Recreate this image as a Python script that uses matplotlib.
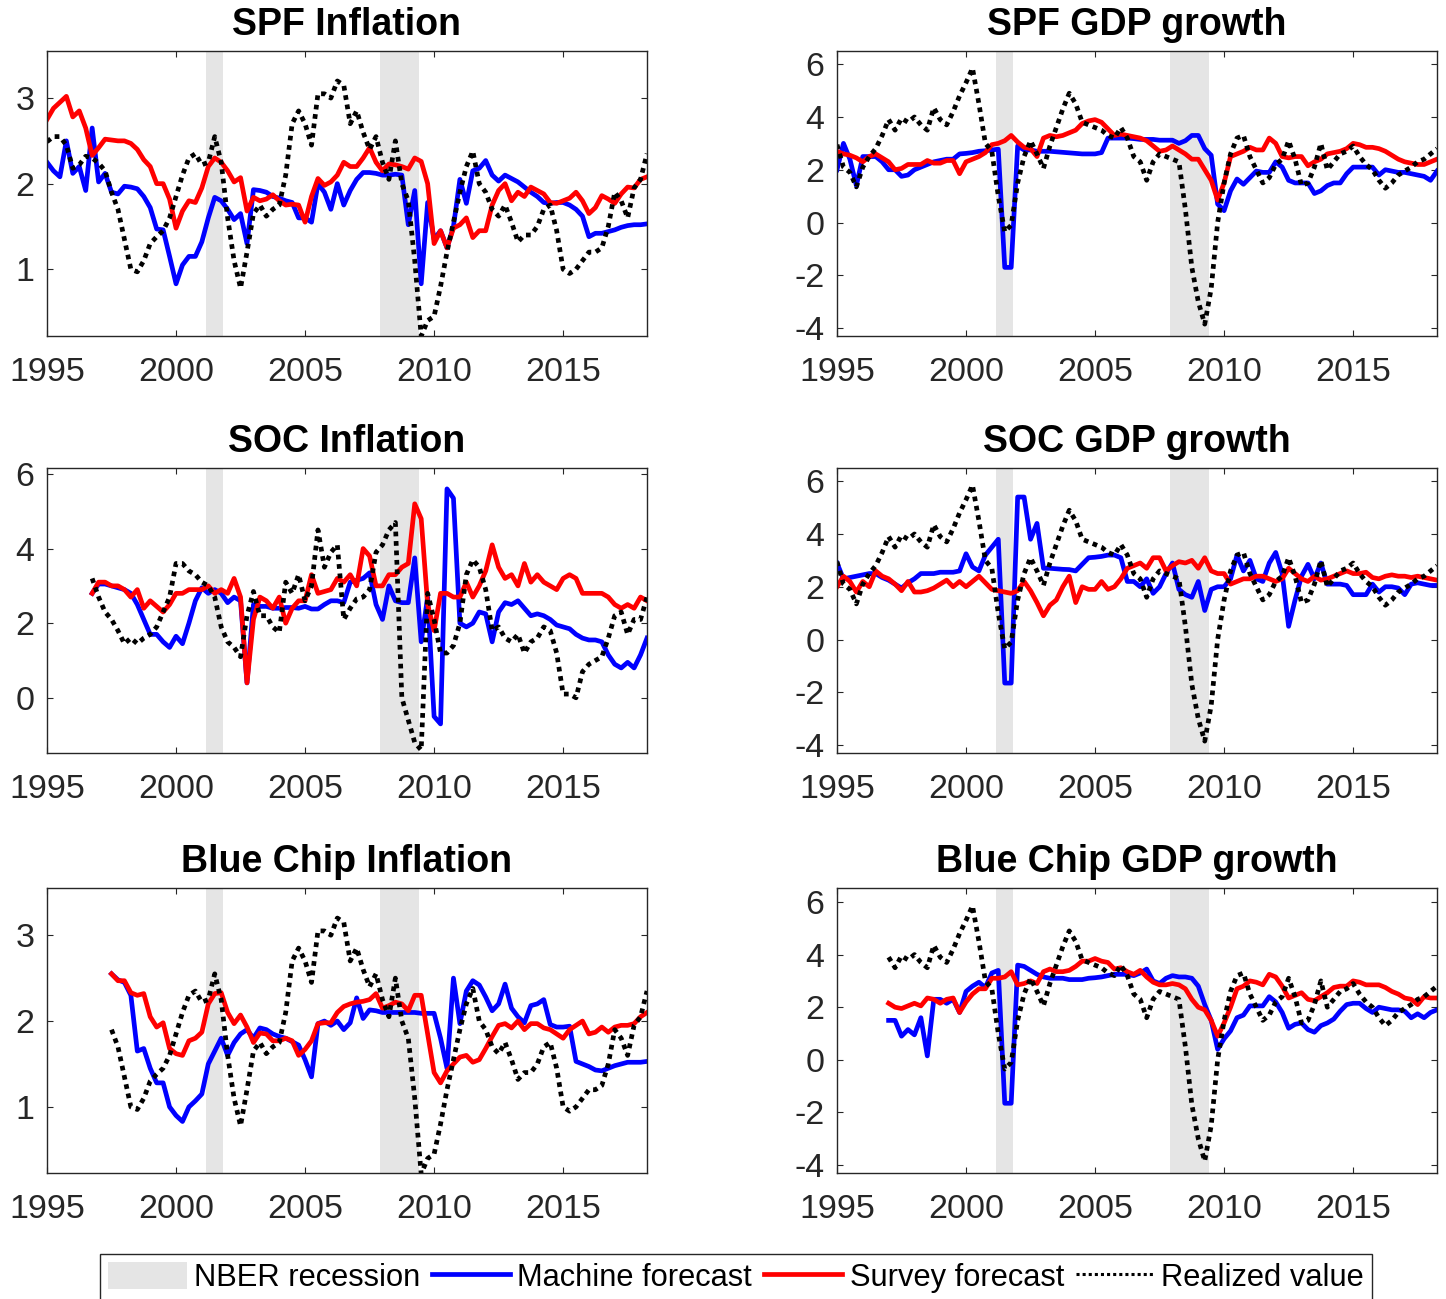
import numpy as np
import matplotlib
matplotlib.use('Agg')
import matplotlib.pyplot as plt
from matplotlib.patches import Patch
from matplotlib.lines import Line2D

plt.rcParams['font.family'] = ['Liberation Sans', 'DejaVu Sans']
plt.rcParams['axes.unicode_minus'] = False

# NBER recessions (start, end)
recessions = [(2001.17, 2001.83), (2007.92, 2009.42)]

# ---- realized values, quarterly ----
# realized inflation (SPF / Blue Chip), 1995Q1 - 2018Q2
realized_infl = [2.49, 2.55, 2.55, 2.45,
                 2.18, 2.22, 2.32, 2.30,
                 2.24, 2.15, 1.90, 1.70,
                 1.35, 1.00, 0.97, 1.10,
                 1.30, 1.38, 1.45, 1.60,
                 1.85, 2.10, 2.30, 2.35,
                 2.22, 2.25, 2.55, 2.25,
                 1.60, 1.10, 0.78, 1.20,
                 1.65, 1.75, 1.62, 1.70,
                 1.75, 2.10, 2.70, 2.85,
                 2.70, 2.45, 3.05, 3.05,
                 3.00, 3.20, 3.15, 2.70,
                 2.85, 2.60, 2.40, 2.55,
                 2.25, 2.05, 2.50, 2.00,
                 1.80, 1.10, 0.22, 0.40,
                 0.45, 0.80, 1.20, 1.55,
                 1.90, 2.20, 2.38, 2.00,
                 1.90, 1.70, 1.62, 1.75,
                 1.55, 1.32, 1.40, 1.40,
                 1.50, 1.70, 1.75, 1.45,
                 1.00, 0.95, 1.00, 1.10,
                 1.20, 1.20, 1.25, 1.50,
                 1.90, 1.80, 1.60, 1.95,
                 2.05, 2.35]

# realized inflation (SOC), 1996Q4 - 2018Q2
realized_cpi = [3.20,
                2.70, 2.30, 2.10, 1.80,
                1.45, 1.60, 1.45, 1.60,
                1.70, 1.90, 2.30, 2.70,
                3.60, 3.60, 3.40, 3.30,
                3.10, 3.00, 2.70, 1.90,
                1.50, 1.35, 1.10, 2.20,
                2.85, 2.20, 2.20, 1.90,
                1.75, 3.10, 2.80, 3.30,
                2.60, 3.00, 4.50, 3.50,
                3.90, 4.10, 2.10, 2.40,
                2.65, 2.70, 2.90, 3.90,
                4.10, 4.50, 4.70, 0.00,
                -0.60, -1.20, -1.40, 2.80,
                2.10, 1.20, 1.20, 1.40,
                2.00, 3.30, 3.70, 3.50,
                2.90, 1.80, 1.90, 1.60,
                1.50, 1.70, 1.20, 1.50,
                1.60, 1.90, 1.80, 1.20,
                0.10, 0.10, 0.00, 0.70,
                0.90, 1.00, 1.10, 1.60,
                2.20, 2.30, 1.70, 2.10,
                2.10, 2.70]

# realized GDP growth, 1995Q1 - 2018Q2
realized_gdp = [2.95, 2.10, 1.90, 1.35,
                2.10, 2.50, 2.80, 3.30,
                3.90, 3.50, 3.95, 3.80,
                4.00, 3.70, 3.50, 4.35,
                3.90, 3.70, 4.20, 4.80,
                5.30, 5.85, 4.50, 3.00,
                2.70, 1.00, -0.35, -0.10,
                1.50, 2.50, 3.10, 2.60,
                2.05, 2.90, 3.60, 4.30,
                4.90, 4.50, 3.80, 3.70,
                3.60, 3.50, 3.30, 3.20,
                3.60, 3.20, 2.50, 2.30,
                1.60, 2.30, 2.60, 2.50,
                2.40, 2.30, 0.50, -1.70,
                -3.00, -3.85, -2.50, 0.00,
                1.50, 2.60, 3.20, 3.30,
                2.50, 2.00, 1.50, 1.70,
                2.20, 2.40, 3.10, 2.40,
                1.40, 1.50, 2.10, 3.00,
                2.00, 2.30, 2.60, 2.70,
                2.90, 2.50, 2.20, 2.00,
                1.60, 1.30, 1.50, 1.80,
                1.95, 2.10, 2.30, 2.40,
                2.60, 2.80]

# ---- SPF, 1995Q1 - 2018Q2 ----
spf_infl_mach = [2.25, 2.15, 2.08, 2.50,
                 2.12, 2.20, 1.92, 2.65,
                 2.02, 2.12, 1.90, 1.88,
                 1.97, 1.96, 1.94, 1.85,
                 1.72, 1.47, 1.46, 1.15,
                 0.83, 1.05, 1.15, 1.15,
                 1.32, 1.60, 1.84, 1.80,
                 1.70, 1.58, 1.65, 1.30,
                 1.93, 1.92, 1.90, 1.85,
                 1.83, 1.80, 1.78, 1.60,
                 1.60, 1.55, 2.00, 1.90,
                 1.70, 2.00, 1.75, 1.92,
                 2.05, 2.13, 2.13, 2.12,
                 2.10, 2.10, 2.11, 2.10,
                 1.52, 1.92, 0.83, 1.78,
                 1.35, 1.45, 1.25, 1.50,
                 2.05, 1.77, 2.15, 2.18,
                 2.27, 2.10, 2.03, 2.10,
                 2.06, 2.02, 1.96, 1.90,
                 1.85, 1.78, 1.77, 1.78,
                 1.78, 1.75, 1.70, 1.62,
                 1.38, 1.42, 1.42, 1.44,
                 1.46, 1.49, 1.51, 1.52,
                 1.52, 1.53]

spf_infl_surv = [2.75, 2.88, 2.95, 3.02,
                 2.78, 2.85, 2.65, 2.33,
                 2.42, 2.52, 2.51, 2.50,
                 2.50, 2.47, 2.40, 2.28,
                 2.20, 2.00, 2.00, 1.82,
                 1.48, 1.68, 1.80, 1.78,
                 1.95, 2.20, 2.30, 2.25,
                 2.15, 2.02, 2.07, 1.68,
                 1.84, 1.80, 1.82, 1.87,
                 1.80, 1.75, 1.76, 1.75,
                 1.55, 1.85, 2.06, 1.98,
                 2.02, 2.10, 2.25, 2.20,
                 2.20, 2.30, 2.42, 2.25,
                 2.15, 2.23, 2.22, 2.20,
                 2.17, 2.30, 2.26, 2.00,
                 1.30, 1.45, 1.25, 1.48,
                 1.52, 1.60, 1.37, 1.45,
                 1.45, 1.75, 1.92, 2.00,
                 1.80, 1.90, 1.85, 1.96,
                 1.92, 1.88, 1.78, 1.77,
                 1.80, 1.83, 1.90, 1.80,
                 1.65, 1.72, 1.86, 1.82,
                 1.77, 1.88, 1.96, 1.95,
                 2.05, 2.08]

spf_gdp_mach = [2.00, 3.00, 2.40, 1.40,
                2.50, 2.50, 2.50, 2.30,
                2.00, 2.00, 1.75, 1.80,
                2.00, 2.10, 2.20, 2.30,
                2.35, 2.40, 2.40, 2.60,
                2.62, 2.65, 2.70, 2.72,
                2.75, 2.78, -1.70, -1.70,
                2.90, 2.75, 2.75, 2.70,
                2.70, 2.70, 2.68, 2.66,
                2.64, 2.62, 2.60, 2.60,
                2.60, 2.65, 3.20, 3.20,
                3.20, 3.20, 3.18, 3.15,
                3.15, 3.15, 3.12, 3.12,
                3.12, 3.00, 3.10, 3.30,
                3.30, 2.80, 2.55, 0.70,
                0.45, 1.20, 1.65, 1.45,
                1.70, 1.95, 1.90, 1.90,
                2.30, 2.10, 1.60, 1.50,
                1.50, 1.50, 1.10, 1.20,
                1.40, 1.50, 1.50, 1.85,
                2.10, 2.10, 2.10, 2.10,
                1.80, 2.00, 1.95, 1.90,
                1.90, 1.85, 1.80, 1.75,
                1.60, 1.95]

spf_gdp_surv = [2.70, 2.60, 2.55, 2.45,
                2.30, 2.50, 2.60, 2.45,
                2.30, 2.00, 2.05, 2.20,
                2.20, 2.20, 2.35, 2.25,
                2.25, 2.35, 2.35, 1.85,
                2.30, 2.40, 2.50, 2.65,
                2.95, 3.00, 3.10, 3.30,
                3.05, 2.85, 2.80, 2.50,
                3.20, 3.30, 3.25, 3.30,
                3.40, 3.50, 3.75, 3.85,
                3.90, 3.80, 3.55, 3.30,
                3.35, 3.30, 3.25, 3.20,
                3.10, 2.90, 2.70, 2.75,
                2.90, 2.75, 2.60, 2.40,
                2.40, 2.00, 1.60, 0.85,
                1.50, 2.50, 2.60, 2.70,
                2.85, 2.75, 2.75, 3.20,
                3.00, 2.50, 2.45, 2.50,
                2.50, 2.15, 2.30, 2.40,
                2.60, 2.65, 2.70, 2.80,
                3.00, 2.95, 2.85, 2.85,
                2.80, 2.70, 2.55, 2.40,
                2.30, 2.25, 2.20, 2.20,
                2.30, 2.40]

# ---- SOC inflation, 1996Q4 - 2018Q2 ----
soc_infl_mach = [2.80,
                 3.05, 3.05, 3.00, 2.95,
                 2.90, 2.80, 2.50, 2.10,
                 1.70, 1.70, 1.50, 1.35,
                 1.65, 1.45, 2.00, 2.60,
                 2.95, 2.80, 2.90, 2.80,
                 2.55, 2.70, 2.60, 0.40,
                 2.50, 2.45, 2.45, 2.40,
                 2.40, 2.42, 2.42, 2.40,
                 2.45, 2.38, 2.38, 2.50,
                 2.60, 2.60, 2.55, 3.10,
                 3.15, 3.20, 3.35, 2.50,
                 2.10, 3.00, 2.60, 2.55,
                 2.55, 3.75, 1.50, 2.70,
                 -0.50, -0.70, 5.60, 5.35,
                 2.00, 1.90, 2.00, 2.30,
                 2.25, 1.50, 2.30, 2.55,
                 2.50, 2.60, 2.40, 2.20,
                 2.25, 2.20, 2.10, 1.95,
                 1.90, 1.85, 1.70, 1.60,
                 1.55, 1.55, 1.50, 1.15,
                 0.90, 0.80, 0.95, 0.80,
                 1.15, 1.60]

soc_infl_surv = [2.80,
                 3.10, 3.10, 3.00, 3.00,
                 2.90, 2.70, 2.90, 2.40,
                 2.60, 2.45, 2.30, 2.50,
                 2.80, 2.80, 2.90, 2.90,
                 2.90, 3.00, 2.80, 2.90,
                 2.80, 3.20, 2.70, 0.40,
                 2.10, 2.70, 2.60, 2.40,
                 2.70, 2.00, 2.40, 2.60,
                 2.60, 3.30, 2.80, 2.85,
                 2.90, 3.20, 3.10, 3.30,
                 3.00, 4.00, 3.80, 3.00,
                 3.00, 3.30, 3.30, 3.50,
                 3.60, 5.20, 4.80, 2.50,
                 1.80, 2.80, 2.80, 2.70,
                 2.70, 3.10, 2.70, 3.00,
                 3.40, 4.10, 3.50, 3.20,
                 3.30, 3.00, 3.60, 3.10,
                 3.30, 3.10, 3.00, 2.90,
                 3.20, 3.30, 3.20, 2.80,
                 2.80, 2.80, 2.80, 2.70,
                 2.50, 2.40, 2.50, 2.40,
                 2.70, 2.60]

# ---- SOC GDP, 1995Q1 - 2018Q2 ----
soc_gdp_mach = [2.90, 2.30, 2.35, 2.40,
                2.45, 2.50, 2.50, 2.35,
                2.25, 2.10, 1.95, 2.15,
                2.30, 2.50, 2.50, 2.50,
                2.55, 2.55, 2.55, 2.60,
                3.25, 2.75, 2.60, 3.20,
                3.50, 3.80, -1.65, -1.65,
                5.40, 5.40, 3.80, 4.40,
                2.70, 2.70, 2.68, 2.66,
                2.65, 2.60, 2.85, 3.10,
                3.12, 3.15, 3.20, 3.20,
                3.10, 2.20, 2.20, 2.00,
                2.30, 1.75, 2.00, 2.50,
                2.90, 1.90, 1.70, 1.60,
                2.20, 1.10, 1.90, 2.00,
                2.00, 2.30, 3.20, 2.60,
                3.00, 2.30, 2.20, 2.90,
                3.30, 2.50, 0.50, 1.50,
                2.40, 2.85, 2.30, 2.90,
                2.10, 2.10, 2.10, 2.05,
                1.70, 1.70, 1.70, 2.10,
                1.80, 2.00, 2.00, 1.95,
                1.70, 2.10, 2.15, 2.10,
                2.05, 2.05]

soc_gdp_surv = [2.00, 2.40, 2.20, 1.80,
                2.20, 2.00, 2.60, 2.40,
                2.30, 2.10, 1.85, 2.20,
                1.80, 1.80, 1.85, 1.95,
                2.10, 2.25, 2.00, 2.20,
                2.00, 2.20, 2.40, 2.15,
                1.90, 1.85, 1.80, 1.75,
                1.85, 2.20, 1.85, 1.40,
                0.90, 1.30, 1.50, 2.00,
                2.40, 1.40, 2.00, 1.90,
                1.90, 2.20, 1.90, 2.00,
                2.30, 2.70, 2.80, 2.90,
                2.70, 3.10, 3.10, 2.60,
                2.80, 2.95, 2.90, 3.00,
                2.70, 3.10, 2.60, 2.50,
                2.50, 2.10, 2.20, 2.30,
                2.30, 2.40, 2.40, 2.30,
                2.20, 2.30, 2.70, 2.50,
                2.30, 2.20, 2.40, 2.25,
                2.30, 2.40, 2.50, 2.60,
                2.50, 2.50, 2.55, 2.35,
                2.30, 2.40, 2.45, 2.40,
                2.40, 2.35, 2.40, 2.35,
                2.30, 2.25]

# ---- Blue Chip inflation, 1997Q3 - 2018Q2 ----
bc_infl_mach = [2.55, 2.48,
                2.45, 2.30, 1.65, 1.68,
                1.45, 1.28, 1.28, 1.00,
                0.90, 0.83, 1.00, 1.07,
                1.15, 1.50, 1.65, 1.80,
                1.60, 1.75, 1.85, 1.90,
                1.80, 1.92, 1.90, 1.85,
                1.82, 1.80, 1.76, 1.72,
                1.55, 1.35, 1.97, 2.00,
                1.95, 2.00, 1.90, 1.98,
                2.27, 2.03, 2.13, 2.12,
                2.10, 2.10, 2.10, 2.10,
                2.10, 2.10, 2.09, 2.09,
                2.09, 1.80, 1.45, 2.50,
                1.97, 2.35, 2.47, 2.42,
                2.28, 2.12, 2.20, 2.43,
                2.15, 2.05, 1.98, 2.18,
                2.20, 2.25, 1.96, 1.93,
                1.93, 1.94, 1.53, 1.50,
                1.47, 1.43, 1.42, 1.45,
                1.48, 1.50, 1.52, 1.52,
                1.52, 1.53]

bc_infl_surv = [2.55, 2.47,
                2.47, 2.33, 2.30, 2.32,
                2.05, 1.93, 1.98, 1.68,
                1.62, 1.60, 1.77, 1.80,
                1.87, 2.20, 2.32, 2.33,
                2.10, 1.97, 2.07, 1.93,
                1.75, 1.86, 1.85, 1.77,
                1.77, 1.80, 1.77, 1.60,
                1.67, 1.77, 1.97, 1.98,
                1.98, 2.10, 2.17, 2.20,
                2.22, 2.23, 2.25, 2.32,
                2.15, 2.18, 2.22, 2.20,
                2.12, 2.30, 2.30, 1.85,
                1.40, 1.28, 1.42, 1.50,
                1.58, 1.60, 1.52, 1.55,
                1.68, 1.82, 1.95, 1.97,
                1.92, 2.00, 1.90, 1.97,
                1.97, 1.92, 1.90, 1.85,
                1.80, 1.90, 1.95, 2.00,
                1.85, 1.87, 1.93, 1.87,
                1.93, 1.95, 1.95, 1.97,
                2.05, 2.10]

# ---- Blue Chip GDP, 1997Q1 - 2018Q2 ----
bc_gdp_mach = [1.50, 1.50, 0.90, 1.15,
               0.95, 1.60, 0.15, 2.30,
               2.30, 2.15, 2.30, 1.80,
               2.60, 2.80, 2.95, 2.75,
               3.30, 3.40, -1.65, -1.65,
               3.60, 3.55, 3.40, 3.25,
               3.15, 3.10, 3.10, 3.10,
               3.05, 3.05, 3.05, 3.10,
               3.12, 3.15, 3.20, 3.25,
               3.25, 3.25, 3.20, 3.30,
               3.45, 3.00, 2.90, 3.10,
               3.20, 3.15, 3.15, 3.10,
               2.80, 2.10, 1.50, 0.40,
               0.80, 1.10, 1.60, 1.70,
               2.05, 2.05, 2.05, 2.40,
               2.20, 1.80, 1.20, 1.35,
               1.40, 1.15, 1.05, 1.30,
               1.40, 1.55, 1.85, 2.10,
               2.15, 2.15, 1.95, 1.80,
               2.00, 1.95, 1.90, 1.90,
               1.85, 1.60, 1.75, 1.60,
               1.80, 1.90]

bc_gdp_surv = [2.15, 2.00, 1.95, 2.05,
               2.15, 2.05, 2.35, 2.30,
               2.15, 2.30, 2.35, 1.80,
               2.20, 2.50, 2.70, 2.70,
               3.10, 3.10, 3.15, 3.35,
               2.85, 2.90, 3.00, 2.90,
               3.35, 3.45, 3.35, 3.35,
               3.40, 3.55, 3.75, 3.75,
               3.85, 3.75, 3.70, 3.45,
               3.50, 3.35, 3.25, 3.40,
               3.15, 2.95, 2.85, 2.85,
               2.90, 2.85, 2.70, 2.30,
               2.00, 1.90, 1.50, 0.90,
               1.40, 2.00, 2.70, 2.80,
               3.00, 2.95, 2.85, 3.25,
               3.15, 2.80, 2.35, 2.45,
               2.55, 2.30, 2.25, 2.40,
               2.55, 2.75, 2.80, 2.80,
               3.00, 2.95, 2.85, 2.85,
               2.85, 2.75, 2.60, 2.50,
               2.35, 2.30, 2.10, 2.40,
               2.35, 2.35]

titles = ['SPF Inflation', 'SPF GDP growth',
          'SOC Inflation', 'SOC GDP growth',
          'Blue Chip Inflation', 'Blue Chip GDP growth']
xticks = [1995, 2000, 2005, 2010, 2015]
legend_labels = ['NBER recession', 'Machine forecast', 'Survey forecast', 'Realized value']

# (machine, survey, start), (realized, start), ylim, yticks
panels = [
    (spf_infl_mach, spf_infl_surv, 1995.0, realized_infl, 1995.0, (0.22, 3.55), [1, 2, 3]),
    (spf_gdp_mach, spf_gdp_surv, 1995.0, realized_gdp, 1995.0, (-4.3, 6.5), [-4, -2, 0, 2, 4, 6]),
    (soc_infl_mach, soc_infl_surv, 1996.75, realized_cpi, 1996.75, (-1.48, 6.16), [0, 2, 4, 6]),
    (soc_gdp_mach, soc_gdp_surv, 1995.0, realized_gdp, 1995.0, (-4.3, 6.5), [-4, -2, 0, 2, 4, 6]),
    (bc_infl_mach, bc_infl_surv, 1997.5, realized_infl[10:], 1997.5, (0.23, 3.55), [1, 2, 3]),
    (bc_gdp_mach, bc_gdp_surv, 1997.0, realized_gdp[8:], 1997.0, (-4.3, 6.53), [-4, -2, 0, 2, 4, 6]),
]


def quarters(start, n):
    return start + 0.25 * np.arange(n)


W, H = 1446, 1299
fig = plt.figure(figsize=(W / 100, H / 100), dpi=100)

col_left = [47, 837]
row_bottom = [336, 753, 1173]
ax_w, ax_h = 600, 285
dark = '#262626'
dots = (0, (1, 1.0))
lw = 3.4

for i, (mach, surv, start, real, rstart, ylim, yt) in enumerate(panels):
    r, c = divmod(i, 2)
    ax = fig.add_axes([col_left[c] / W, 1 - row_bottom[r] / H, ax_w / W, ax_h / H])
    for a, b in recessions:
        ax.axvspan(a, b, color='#e5e5e5', lw=0)
    ax.plot(quarters(start, len(mach)), mach, color='#0000ff', lw=lw)
    ax.plot(quarters(start, len(surv)), surv, color='#ff0000', lw=lw)
    ax.plot(quarters(rstart, len(real)), real, color='black', lw=lw, linestyle=dots)
    ax.set_xlim(1995, 2018.25)
    ax.set_ylim(*ylim)
    ax.set_xticks(xticks)
    ax.set_yticks(yt)
    ax.tick_params(direction='in', top=True, right=True, length=4.5, width=0.8,
                   labelsize=24.5, colors=dark)
    ax.tick_params(axis='x', pad=15)
    ax.tick_params(axis='y', pad=9)
    for s in ax.spines.values():
        s.set_color(dark)
        s.set_linewidth(1.0)
    ax.set_title(titles[i], fontsize=27, fontweight='bold', pad=11.5)

handles = [Patch(facecolor='#e5e5e5', edgecolor='none'),
           Line2D([], [], color='#0000ff', lw=lw),
           Line2D([], [], color='#ff0000', lw=lw),
           Line2D([], [], color='black', lw=2.2, linestyle=dots)]
leg = fig.legend(handles, legend_labels, loc='upper center', ncol=4,
                 bbox_to_anchor=(736 / W, 1 - 1254 / H), fontsize=22.2,
                 handlelength=2.55, handleheight=1.0, handletextpad=0.23,
                 columnspacing=0.38, borderpad=0.25, borderaxespad=0,
                 fancybox=False, framealpha=1)
leg.get_frame().set_edgecolor(dark)
leg.get_frame().set_linewidth(1.0)

fig.savefig('out.png', dpi=100)
